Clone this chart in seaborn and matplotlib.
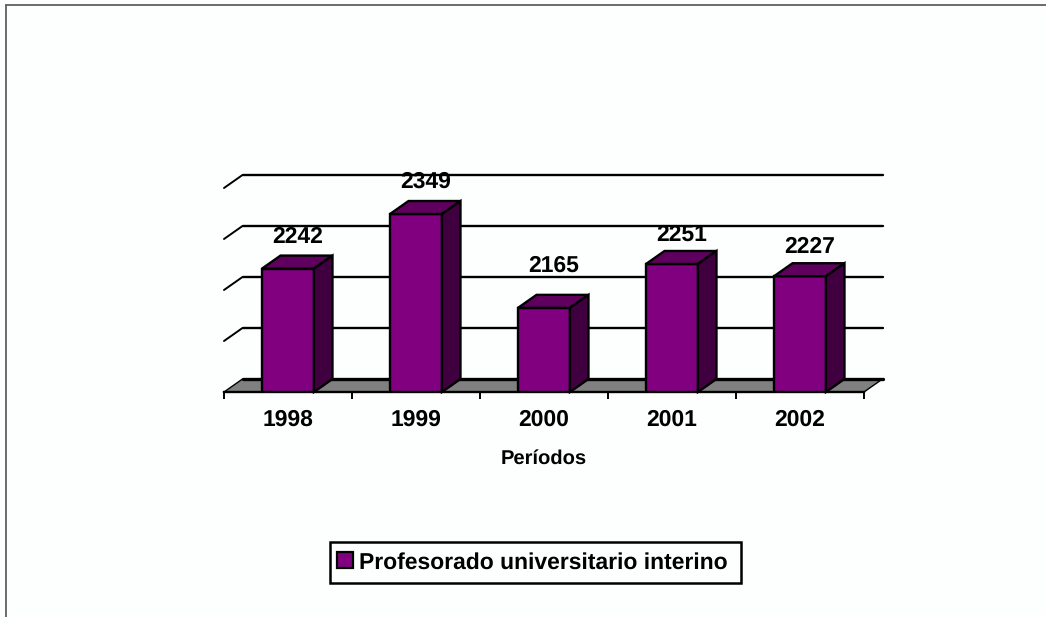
import matplotlib
matplotlib.use("Agg")
import matplotlib.pyplot as plt
import pandas as pd
import seaborn as sns
from matplotlib.lines import Line2D
from matplotlib.patches import Patch, Polygon, Rectangle

years = ['1998', '1999', '2000', '2001', '2002']
valores = [2242, 2349, 2165, 2251, 2227]
niveles = [2000, 2100, 2200, 2300, 2400]
serie = 'Profesorado universitario interino'
eje_x = 'Períodos'

W, H = 1046, 617
BG = '#FDFFFF'
FRENTE, TECHO, LADO = '#800080', '#5F005F', '#400040'
# separacion de cada etiqueta sobre su barra, en pixeles
sep_etiqueta = [19, 19, 29, 16, 16]

sns.set_theme(style="white")
plt.rcParams['font.family'] = ['Liberation Sans', 'DejaVu Sans']
plt.rcParams['text.hinting'] = 'no_hinting'

df = pd.DataFrame({'periodo': years, 'valor': valores})

fig = plt.figure(figsize=(W / 100, H / 100), dpi=100, facecolor=BG)
ax = fig.add_axes([224 / W, 1 - 392 / H, 640 / W, 204 / H])
ax.set_facecolor('none')

sns.barplot(data=df, x='periodo', y='valor', color=FRENTE, saturation=1,
            width=0.406, edgecolor='black', linewidth=1.7, ax=ax, zorder=3)
ax.set_xlim(-0.5, 4.5)
ax.set_ylim(niveles[0], niveles[-1])

# profundidad del falso 3D, en unidades de datos
dx = 18.5 / 128
dy = 13 * (niveles[-1] - niveles[0]) / 204

x0, x1 = ax.get_xlim()
base = niveles[0]

# suelo gris
ax.add_patch(Polygon([(x0, base), (x1, base), (x1 + dx, base + dy), (x0 + dx, base + dy)],
                     closed=True, facecolor='#808080', edgecolor='none', clip_on=False, zorder=1))
ax.plot([x0, x0 + dx], [base, base + dy], color='black', lw=1.0, clip_on=False, zorder=1.5)
ax.plot([x1, x1 + dx], [base, base + dy], color='black', lw=1.0, clip_on=False, zorder=1.5)

# rejilla del fondo y diagonales de la pared
for i, v in enumerate(niveles):
    ax.plot([x0 + dx, x1 + dx], [v + dy, v + dy], color='black', clip_on=False, zorder=2,
            lw=2.4 if i == 0 else 1.7)
    if i > 0:
        ax.plot([x0, x0 + dx], [v, v + dy], color='black', lw=1.4, clip_on=False, zorder=2)

# caras de arriba y del lado, y etiquetas
barras = [p for p in ax.patches if isinstance(p, plt.Rectangle)]
for bar, val, sep in zip(barras, valores, sep_etiqueta):
    l = bar.get_x()
    r = l + bar.get_width()
    t = bar.get_height() + bar.get_y()
    ax.add_patch(Polygon([(l, t), (r, t), (r + dx, t + dy), (l + dx, t + dy)], closed=True,
                         facecolor=TECHO, edgecolor='black', lw=1.7, clip_on=False, zorder=3))
    ax.add_patch(Polygon([(r, t), (r + dx, t + dy), (r + dx, base + dy), (r, base)], closed=True,
                         facecolor=LADO, edgecolor='black', lw=1.7, clip_on=False, zorder=3))
    ax.annotate(str(val), (l + bar.get_width() / 2 + dx * 0.5, t + dy), xytext=(0, sep * 0.72),
                textcoords='offset points', ha='center', va='center', fontsize=16.5,
                fontweight='bold', color='black', zorder=5, annotation_clip=False)

sns.despine(ax=ax, left=True, top=True, right=True)
ax.spines['bottom'].set_linewidth(1.7)
ax.spines['bottom'].set_color('black')
ax.spines['bottom'].set_zorder(4)
ax.set_yticks([])
ax.set_ylabel('')
ax.set_xticks([p + 0.5 for p in range(-1, 5)], minor=True)
ax.tick_params(axis='x', which='minor', bottom=True, length=5, width=1.4, color='black')
ax.tick_params(axis='x', which='major', bottom=False, pad=6, labelsize=16.5)
for lab in ax.get_xticklabels():
    lab.set_fontweight('bold')
    lab.set_color('black')
ax.set_xlabel(eje_x, fontsize=14.5, fontweight='bold', color='black', labelpad=14)

# marco de la leyenda aparte: el texto no queda centrado dentro
fig.add_artist(Rectangle((330 / W, 1 - 583 / H), 411 / W, 41 / H, transform=fig.transFigure,
                         facecolor=BG, edgecolor='black', lw=1.8))
fig.legend(handles=[Patch(facecolor=FRENTE, edgecolor='black', lw=1.6, label=serie)],
           loc='center left', bbox_to_anchor=(337 / W, 1 - 562.5 / H), frameon=False,
           prop={'size': 16.5, 'weight': 'bold'}, handlelength=0.7, handleheight=0.7,
           handletextpad=0.26, borderpad=0, borderaxespad=0, labelcolor='black')

# borde de la diapositiva
fig.add_artist(Line2D([5.5 / W, 5.5 / W], [0, 1 - 5 / H], color='#606060', lw=1.3))
fig.add_artist(Line2D([5.5 / W, 1], [1 - 5 / H, 1 - 5 / H], color='#606060', lw=1.3))

fig.savefig('out.png', dpi=100, facecolor=BG)
